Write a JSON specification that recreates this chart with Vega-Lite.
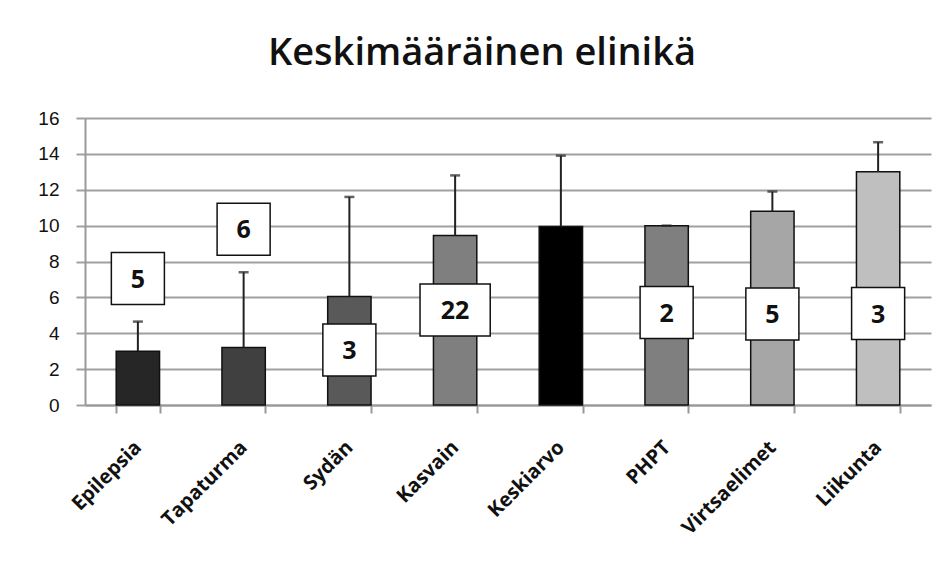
{
  "$schema": "https://vega.github.io/schema/vega-lite/v6.json",
  "width": 846,
  "height": 287,
  "autosize": "none",
  "padding": {"left": 85, "top": 118, "right": 16, "bottom": 168},
  "background": "white",
  "title": {
    "text": "Keskimääräinen elinikä",
    "font": "Open Sans",
    "fontSize": 38,
    "fontWeight": 600,
    "color": "#111111",
    "anchor": "middle",
    "dx": -26,
    "baseline": "alphabetic",
    "offset": 6
  },
  "data": {
    "values": [
      {"kategoria": "Epilepsia", "arvo": 3.0, "virhe": 4.65, "n": "5", "nY": 7.05, "leveys": "kapea"},
      {"kategoria": "Tapaturma", "arvo": 3.2, "virhe": 7.4, "n": "6", "nY": 9.8, "leveys": "kapea"},
      {"kategoria": "Sydän", "arvo": 6.05, "virhe": 11.6, "n": "3", "nY": 3.07, "leveys": "kapea"},
      {"kategoria": "Kasvain", "arvo": 9.45, "virhe": 12.8, "n": "22", "nY": 5.3, "leveys": "leveä"},
      {"kategoria": "Keskiarvo", "arvo": 9.95, "virhe": 13.9, "n": null, "nY": null, "leveys": null},
      {"kategoria": "PHPT", "arvo": 10.0, "virhe": 10.0, "n": "2", "nY": 5.15, "leveys": "kapea"},
      {"kategoria": "Virtsaelimet", "arvo": 10.8, "virhe": 11.9, "n": "5", "nY": 5.08, "leveys": "kapea"},
      {"kategoria": "Liikunta", "arvo": 13.0, "virhe": 14.65, "n": "3", "nY": 5.1, "leveys": "kapea"}
    ]
  },
  "encoding": {
    "x": {
      "field": "kategoria",
      "type": "nominal",
      "sort": null,
      "scale": {"paddingInner": 0.59, "paddingOuter": 0.295},
      "axis": {
        "title": null,
        "labelAngle": -45,
        "labelAlign": "right",
        "labelBaseline": "middle",
        "labelFont": "Open Sans",
        "labelFontWeight": "bold",
        "labelFontSize": 20,
        "labelColor": "#111111",
        "labelPadding": 31,
        "tickBand": "extent",
        "tickSize": 8,
        "tickColor": "#999999",
        "tickWidth": 2,
        "domainColor": "#999999",
        "domainWidth": 2,
        "grid": false
      }
    }
  },
  "layer": [
    {
      "mark": {"type": "bar", "stroke": "#111111", "strokeWidth": 1.5},
      "encoding": {
        "y": {
          "field": "arvo",
          "type": "quantitative",
          "scale": {"domain": [0, 16], "nice": false},
          "axis": {"title": null, "tickCount": 8}
        },
        "color": {
          "field": "kategoria",
          "type": "nominal",
          "sort": null,
          "legend": null,
          "scale": {
            "domain": ["Epilepsia", "Tapaturma", "Sydän", "Kasvain", "Keskiarvo", "PHPT", "Virtsaelimet", "Liikunta"],
            "range": ["#262626", "#404040", "#595959", "#7f7f7f", "#000000", "#7f7f7f", "#a6a6a6", "#bfbfbf"]
          }
        }
      }
    },
    {
      "mark": {"type": "rule", "color": "#222222", "strokeWidth": 2},
      "encoding": {
        "y": {"field": "arvo", "type": "quantitative"},
        "y2": {"field": "virhe"}
      }
    },
    {
      "mark": {"type": "tick", "color": "#222222", "thickness": 2.5, "size": 10},
      "encoding": {
        "y": {"field": "virhe", "type": "quantitative"}
      }
    },
    {
      "transform": [{"filter": "datum.n != null"}],
      "mark": {"type": "point", "filled": true, "fill": "white", "stroke": "#111111", "strokeWidth": 1.5, "size": 2704, "opacity": 1},
      "encoding": {
        "y": {"field": "nY", "type": "quantitative"},
        "shape": {
          "field": "leveys",
          "type": "nominal",
          "legend": null,
          "scale": {"domain": ["kapea", "leveä"], "range": ["M-1.02,-1H1.02V1H-1.02Z", "M-1.35,-1H1.35V1H-1.35Z"]}
        }
      }
    },
    {
      "transform": [{"filter": "datum.n != null"}],
      "mark": {"type": "text", "font": "Open Sans", "fontWeight": "bold", "fontSize": 25, "color": "#111111", "baseline": "middle", "dy": 1},
      "encoding": {
        "y": {"field": "nY", "type": "quantitative"},
        "text": {"field": "n"}
      }
    }
  ],
  "config": {
    "view": {"stroke": null},
    "axisY": {
      "title": null,
      "tickCount": 8,
      "labelOverlap": false,
      "labelFont": "Liberation Sans",
      "labelFontSize": 19,
      "labelColor": "#111111",
      "labelPadding": 17,
      "tickSize": 9,
      "tickColor": "#a0a0a0",
      "tickWidth": 2,
      "domainColor": "#999999",
      "domainWidth": 2,
      "gridColor": "#a0a0a0",
      "gridWidth": 2
    }
  }
}
